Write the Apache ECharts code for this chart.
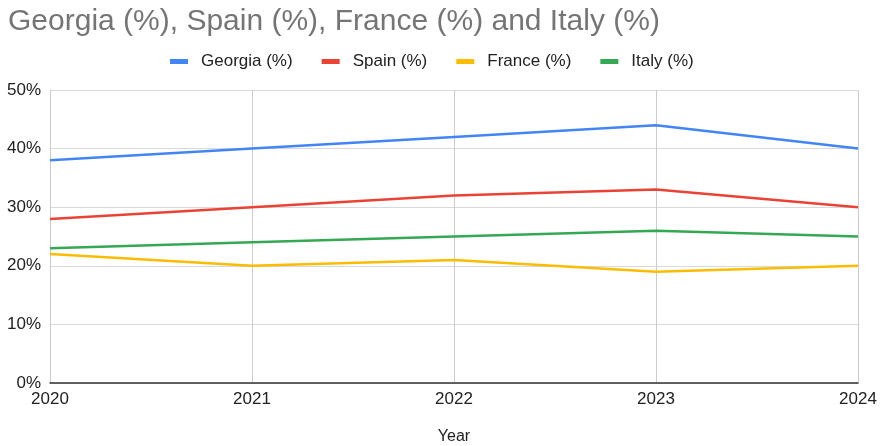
<!DOCTYPE html>
<html><head><meta charset="utf-8">
<script src="https://cdn.jsdelivr.net/npm/echarts@6/dist/echarts.min.js"></script>
<style>html,body{margin:0;padding:0;background:#fff}#c{width:883px;height:446px}</style>
</head><body><div id="c"></div>
<script>
const years = ['2020','2021','2022','2023','2024'];
const georgia = [38, 40, 42, 44, 40];
const spain = [28, 30, 32, 33, 30];
const france = [22, 20, 21, 19, 20];
const italy = [23, 24, 25, 26, 25];
const seriesNames = ['Georgia (%)','Spain (%)','France (%)','Italy (%)'];
const colors = ['#4285f4','#ea4335','#fbbc04','#34a853'];
const yTicks = [0,10,20,30,40,50];

const chart = echarts.init(document.getElementById('c'));
const font = '"Liberation Sans", Arial, sans-serif';
const mk = (name, data, i) => ({
  name, type:'line', data, symbol:'none', smooth:false,
  lineStyle:{width:2.5, color:colors[i]}, itemStyle:{color:colors[i]}
});
chart.setOption({
  animation:false,
  title:{text:'Georgia (%), Spain (%), France (%) and Italy (%)', left:3, top:2,
    textStyle:{color:'#757575', fontSize:30, fontWeight:'normal', fontFamily:font}},
  legend:{top:48, left:165, itemWidth:18, itemHeight:5, itemGap:29, icon:'rect',
    textStyle:{color:'#222', fontSize:17, fontFamily:font, padding:[0,0,0,8]}, data:seriesNames},
  grid:{left:50, right:25, top:90, bottom:63, containLabel:false, outerBoundsMode:'none'},
  xAxis:{type:'category', data:years, boundaryGap:false,
    name:'Year', nameLocation:'middle', nameGap:46,
    nameTextStyle:{color:'#222', fontSize:16, fontFamily:font},
    axisLine:{lineStyle:{color:'#333', width:1.5}},
    axisTick:{show:false},
    axisLabel:{color:'#222', fontSize:17, fontFamily:font, margin:8},
    splitLine:{show:true, lineStyle:{color:'#cccccc', width:1}}},
  yAxis:{type:'value', min:yTicks[0], max:yTicks[yTicks.length-1], interval:10,
    axisLine:{show:true, lineStyle:{color:'#cccccc'}}, axisTick:{show:false},
    axisLabel:{color:'#222', fontSize:17, fontFamily:font, margin:9, formatter:v=>v+'%'},
    splitLine:{lineStyle:{color:'#d9d9d9', width:1}}},
  series:[mk(seriesNames[0],georgia,0), mk(seriesNames[1],spain,1), mk(seriesNames[2],france,2), mk(seriesNames[3],italy,3)]
});
</script></body></html>
